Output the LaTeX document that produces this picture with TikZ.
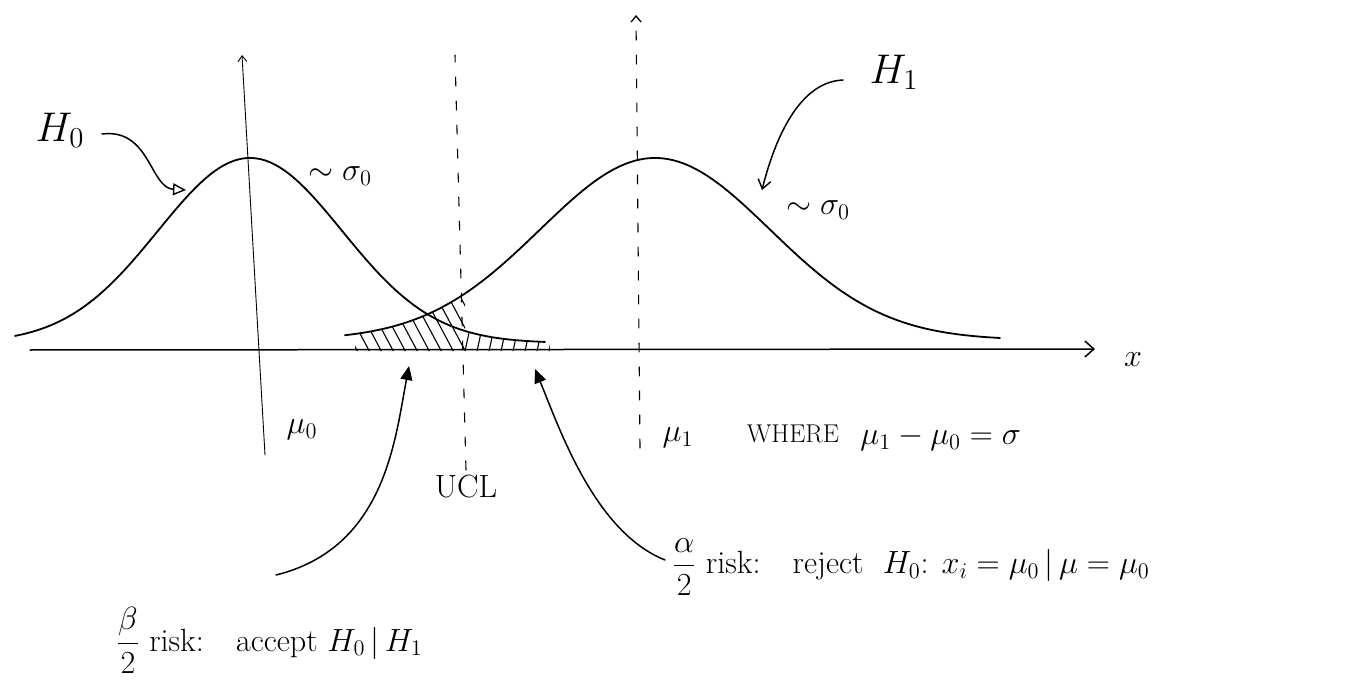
\documentclass[tikz,border=0pt]{standalone}
\usetikzlibrary{arrows.meta}
\begin{document}
\begin{tikzpicture}[x=1pt,y=-1pt,line cap=round,line join=round,
  curve/.style={line width=1.8pt},
  axisline/.style={line width=1.5pt},
  vaxis/.style={line width=0.9pt},
  dashline/.style={line width=1.1pt,dash pattern=on 9pt off 15pt},
  ptr/.style={line width=1.5pt},
  hatch/.style={line width=1.1pt},
  lbl/.style={font=\fontsize{20.74}{25}\selectfont,inner sep=0pt,scale=1.55},
  big/.style={font=\fontsize{20.74}{25}\selectfont,inner sep=0pt,scale=2.0}]
\useasboundingbox (0,0) rectangle (1371,695);

% hatched regions
\begin{scope}
  \clip plot[domain=355:465,samples=40] (\x,{340-182*exp(-((\x-655)/115)^2/2)}) -- (465,351) -- (355,351) -- cycle;
  \foreach \x in {330,342,...,480} \draw[hatch] (\x,300) -- ({\x+30},356);
\end{scope}
\begin{scope}
  \clip plot[domain=465:550,samples=40] (\x,{343-185*exp(-((\x-250)/92)^2/2)}) -- (550,351) -- (465,351) -- cycle;
  \foreach \x in {452,464,...,560} \draw[hatch] (\x,356) -- ({\x+12},300);
\end{scope}

% curves
\draw[curve] plot[domain=15:545,samples=150] (\x,{343-185*exp(-((\x-250)/92)^2/2)});
\draw[curve] plot[domain=345:1000,samples=150] (\x,{340-182*exp(-((\x-655)/115)^2/2)});

% x axis
\coordinate (xa) at (30,350);
\coordinate (xb) at (1095,349);
\draw[axisline,-{Straight Barb[length=9pt,width=16pt,line width=1.5pt]}] (xa) -- (xb);
\node[lbl] (xl) at (1133,360) {$x$};

% H0 vertical axis
\coordinate (a0b) at (265,455);
\coordinate (a0t) at (242,55);
\draw[vaxis,-{Straight Barb[length=6pt,width=9pt]}] (a0b) -- (a0t);

% UCL dashed line
\coordinate (ub) at (466,470);
\coordinate (ut) at (455,55);
\draw[dashline] (ub) -- (ut);
\node[lbl] (ucl) at (466,487) {UCL};

% mu1 dashed line
\coordinate (m1b) at (640,448);
\coordinate (m1t) at (636,15);
\draw[dashline,-{Straight Barb[length=6pt,width=10pt,line width=1.3pt]}] (m1b) -- (m1t);

% labels
\node[big] (h0) at (60,130) {$H_0$};
\node[big] (h1) at (894,72) {$H_1$};
\node[lbl] (s0a) at (340,176) {$\sim\sigma_0$};
\node[lbl] (s0b) at (818,210) {$\sim\sigma_0$};
\node[lbl] (mu0) at (302,430) {$\mu_0$};
\node[lbl] (mu1) at (678,438) {$\mu_1$};
\node[lbl,scale=0.8] (where) at (793,434) {WHERE};
\node[lbl,anchor=west] (diff) at (860,438) {$\mu_1-\mu_0=\sigma$};

\node[lbl,anchor=west] (beta) at (116,640) {$\displaystyle\frac{\beta}{2}$ risk:\quad accept $H_0\,\big|\,H_1$};
\node[lbl,anchor=west] (alpha) at (672,567) {$\displaystyle\frac{\alpha}{2}$ risk:\quad reject\ \ $H_0$: $x_i=\mu_0\,\big|\,\mu=\mu_0$};

% pointers
\coordinate (h0s) at (102,134);
\coordinate (h0e) at (186,190);
\draw[ptr,-{Triangle[open,length=13pt,width=12pt,line width=1.4pt]}] (h0s) .. controls (150,128) and (150,188) .. (h0e);
\coordinate (h1s) at (843,80);
\coordinate (h1e) at (762,190);
\draw[ptr,-{Straight Barb[length=9pt,width=13pt,line width=1.4pt]}] (h1s) .. controls (795,82) and (772,150) .. (h1e);
\coordinate (bs) at (276,575);
\coordinate (be) at (409,366);
\draw[ptr,-{Triangle[length=14pt,width=12pt]}] (bs) .. controls (385,548) and (395,440) .. (be);
\coordinate (as) at (665,560);
\coordinate (ae) at (535,369);
\draw[ptr,-{Triangle[length=14pt,width=12pt]}] (as) .. controls (595,532) and (560,430) .. (ae);
\end{tikzpicture}
\end{document}
